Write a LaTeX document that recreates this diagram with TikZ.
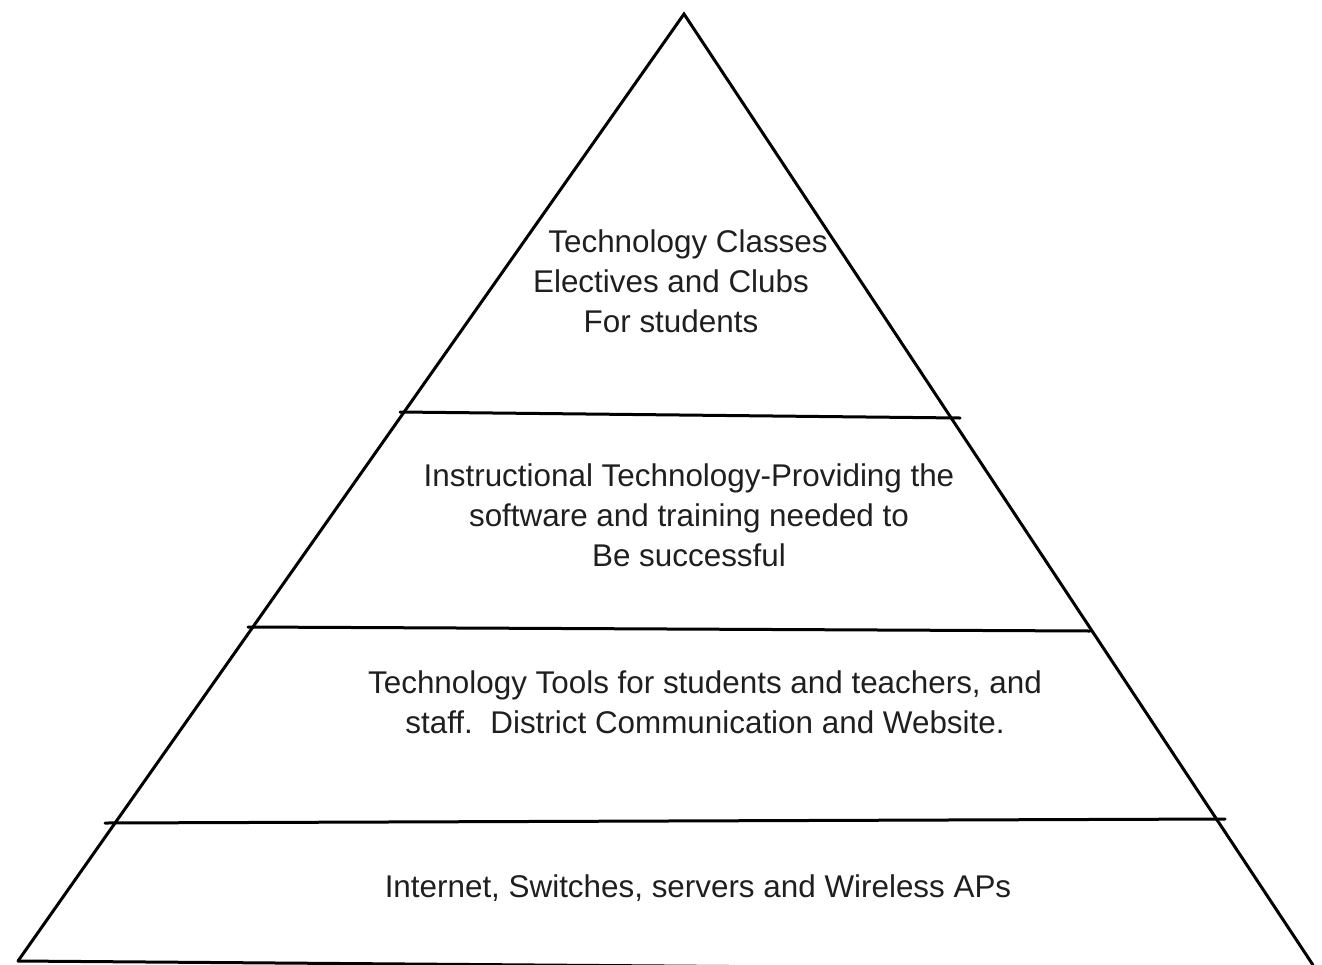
\documentclass[tikz,border=0pt]{standalone}
\usepackage{fontspec}
\setmainfont{Liberation Sans}
\usetikzlibrary{positioning}
\tikzset{
  tier/.style = {align = center,
                 font = \fontsize{15.7}{20}\selectfont,
                 text = black!88,
                 inner sep = 0pt},
  rule/.style = {line width = 1.5pt,
                 line cap = round,
                 line join = miter}
}

\begin{document}
\begin{tikzpicture}[x = 0.5pt, y = -0.5pt]
\useasboundingbox (0,0) rectangle (1322,964);
\clip (0,0) rectangle (1322,964);

% outline of the pyramid
\coordinate (apex) at (684,14);
\coordinate (base-left) at (18,961);
\coordinate (base-right) at (1313,965);
\coordinate (base-end) at (1314,971);
\draw[rule] (base-left) -- (apex) -- (base-right);
\draw[rule] (base-left) -- (base-end);

% shelves between the tiers
\coordinate (shelf1-l) at (400,412);
\coordinate (shelf1-r) at (960,418);
\coordinate (shelf2-l) at (248,627);
\coordinate (shelf2-r) at (1090,631);
\coordinate (shelf3-l) at (105,823);
\coordinate (shelf3-r) at (1225,819);
\draw[rule] (shelf1-l) -- (shelf1-r);
\draw[rule] (shelf2-l) -- (shelf2-r);
\draw[rule] (shelf3-l) -- (shelf3-r);

% tier labels, top to bottom
\node[tier](tier-classes) at (671,281){\hspace*{17pt}Technology Classes\\Electives and Clubs\\For students};

\node[tier](tier-instruct) at (689,515){Instructional Technology-Providing the\\software and training needed to\\Be successful};

\node[tier](tier-tools) at (705,702){Technology Tools for students and teachers, and\\staff.\ \ District Communication and Website.};

\node[tier](tier-network) at (698,888){Internet, Switches, servers and Wireless APs};

\end{tikzpicture}
\end{document}
